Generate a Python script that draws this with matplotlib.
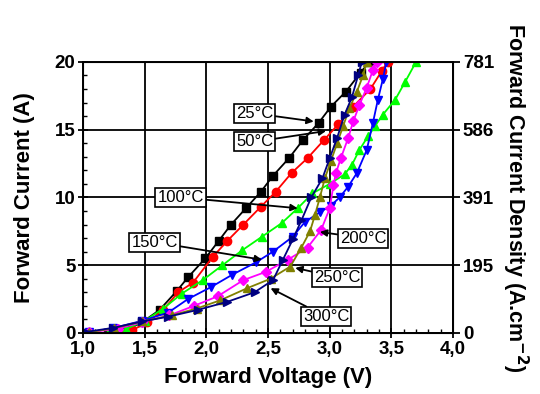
import matplotlib
matplotlib.use('Agg')
import matplotlib.pyplot as plt
from matplotlib.ticker import MultipleLocator, FuncFormatter

plt.rcParams['font.family'] = ['Liberation Sans', 'DejaVu Sans']
plt.rcParams['font.weight'] = 'bold'

# forward voltage (V) / forward current (A) for each temperature
v_25 = [1.20, 1.35, 1.48, 1.62, 1.76, 1.85, 1.99, 2.10, 2.20, 2.32, 2.44, 2.54, 2.67, 2.78, 2.91, 3.01, 3.13, 3.25, 3.32]
i_25 = [0.0, 0.2, 0.8, 1.7, 3.1, 4.1, 5.5, 6.8, 8.0, 9.2, 10.4, 11.6, 12.9, 14.2, 15.5, 16.7, 17.8, 19.2, 20.0]

v_50 = [1.25, 1.40, 1.52, 1.65, 1.77, 1.89, 2.05, 2.17, 2.30, 2.44, 2.56, 2.69, 2.82, 2.95, 3.07, 3.19, 3.33, 3.42, 3.47]
i_50 = [0.0, 0.2, 0.8, 1.7, 3.0, 3.7, 5.6, 6.8, 8.0, 9.3, 10.4, 11.8, 12.9, 14.2, 15.4, 16.7, 18.0, 19.3, 20.0]

v_100 = [1.20, 1.35, 1.50, 1.65, 1.80, 1.97, 2.13, 2.29, 2.45, 2.61, 2.74, 2.86, 3.00, 3.12, 3.18, 3.24, 3.31, 3.37, 3.43, 3.53, 3.61, 3.70]
i_100 = [0.0, 0.3, 0.9, 1.8, 2.9, 3.9, 5.0, 6.1, 7.1, 8.1, 9.2, 10.3, 11.0, 11.7, 12.4, 13.5, 14.5, 15.3, 16.1, 17.2, 18.5, 20.0]

v_150 = [1.05, 1.24, 1.48, 1.69, 1.85, 2.04, 2.21, 2.40, 2.54, 2.70, 2.80, 2.92, 3.01, 3.08, 3.15, 3.22, 3.30, 3.35, 3.39, 3.43, 3.46]
i_150 = [0.05, 0.35, 0.9, 1.5, 2.5, 3.4, 4.3, 5.2, 6.0, 7.1, 8.2, 8.9, 9.4, 10.0, 10.8, 11.8, 13.5, 15.5, 17.2, 18.7, 20.0]

v_200 = [1.05, 1.28, 1.48, 1.70, 1.90, 2.09, 2.30, 2.48, 2.66, 2.82, 2.93, 3.00, 3.03, 3.05, 3.09, 3.15, 3.19, 3.24, 3.30, 3.35, 3.38]
i_200 = [0.05, 0.3, 0.8, 1.3, 2.0, 2.7, 3.9, 4.5, 5.4, 6.3, 7.6, 9.2, 10.9, 11.8, 12.9, 14.4, 15.6, 16.8, 18.1, 19.4, 20.0]

v_250 = [1.05, 1.25, 1.48, 1.72, 1.92, 2.11, 2.33, 2.52, 2.68, 2.77, 2.84, 2.88, 2.92, 2.96, 3.01, 3.06, 3.11, 3.16, 3.22, 3.27, 3.30]
i_250 = [0.05, 0.35, 0.85, 1.3, 1.8, 2.4, 3.3, 4.0, 4.9, 6.3, 7.5, 8.7, 10.0, 11.4, 12.7, 14.0, 15.3, 16.6, 17.8, 19.0, 20.0]

v_300 = [1.02, 1.24, 1.48, 1.69, 1.93, 2.17, 2.39, 2.54, 2.62, 2.70, 2.77, 2.85, 2.94, 3.00, 3.06, 3.12, 3.18, 3.23, 3.26]
i_300 = [0.07, 0.37, 0.85, 1.2, 1.7, 2.3, 3.0, 3.9, 5.4, 6.9, 8.3, 10.0, 11.4, 12.9, 14.4, 16.1, 17.4, 19.0, 20.0]

density_ticks = [0, 5, 10, 15, 20]
density_labels = ['0', '195', '391', '586', '781']

series = [
    (v_25, i_25, 'black', 's', 6, '25°C'),
    (v_50, i_50, 'red', 'o', 6, '50°C'),
    (v_100, i_100, '#00ff00', '^', 6, '100°C'),
    (v_150, i_150, 'blue', 'v', 6, '150°C'),
    (v_200, i_200, 'magenta', 'D', 5, '200°C'),
    (v_250, i_250, '#808000', '^', 6, '250°C'),
    (v_300, i_300, '#000080', '>', 6, '300°C'),
]

# label text position, arrow tip
labels = [
    ('25°C', (2.39, 16.2), (2.87, 15.6)),
    ('50°C', (2.39, 14.1), (2.97, 14.9)),
    ('100°C', (1.79, 10.0), (2.74, 9.2)),
    ('150°C', (1.58, 6.7), (2.45, 5.4)),
    ('200°C', (3.27, 7.0), (2.92, 7.45)),
    ('250°C', (3.06, 4.1), (2.72, 4.8)),
    ('300°C', (2.97, 1.2), (2.52, 3.3)),
]

fig = plt.figure(figsize=(5.4, 3.94), dpi=100)
ax = fig.add_axes([0.154, 0.155, 0.685, 0.688])

for v, i, c, m, ms, name in series:
    ax.plot(v, i, color=c, marker=m, markersize=ms, linewidth=1.3, label=name)

for text, xy_text, xy in labels:
    ax.annotate(text, xy=xy, xytext=xy_text, fontsize=12, fontweight='normal',
                ha='center', va='center',
                bbox=dict(boxstyle='square,pad=0.12', fc='white', ec='black', lw=1.2),
                arrowprops=dict(arrowstyle='-|>', color='black', lw=1.3,
                                mutation_scale=10, shrinkA=0, shrinkB=0))

ax.set_xlim(1.0, 4.0)
ax.set_ylim(0, 20)
ax.xaxis.set_major_locator(MultipleLocator(0.5))
ax.xaxis.set_minor_locator(MultipleLocator(0.1))
ax.yaxis.set_major_locator(MultipleLocator(5))
ax.yaxis.set_minor_locator(MultipleLocator(1))
ax.xaxis.set_major_formatter(FuncFormatter(lambda x, p: ('%.1f' % x).replace('.', ',')))
ax.grid(True, which='major', color='black', linewidth=1.3)
ax.set_axisbelow(True)
ax.tick_params(which='major', direction='inout', length=7, width=1.3, labelsize=13.5, pad=2)
ax.tick_params(which='minor', direction='in', length=3, width=1)
for s in ax.spines.values():
    s.set_linewidth(1.4)

ax.set_xlabel('Forward Voltage (V)', fontsize=16, fontweight='bold', labelpad=7)
ax.set_ylabel('Forward Current (A)', fontsize=16, fontweight='bold', labelpad=14)

ax2 = ax.twinx()
ax2.set_ylim(0, 20)
ax2.set_yticks(density_ticks)
ax2.set_yticklabels(density_labels)
ax2.tick_params(direction='out', length=5, width=1.3, labelsize=13.5, pad=2)
ax2.set_ylabel('Forward Current Density (A.cm$^{\\mathbf{-2}}$)', fontsize=15.5,
               fontweight='bold', rotation=270, labelpad=26)

fig.savefig('out.png', dpi=100)
